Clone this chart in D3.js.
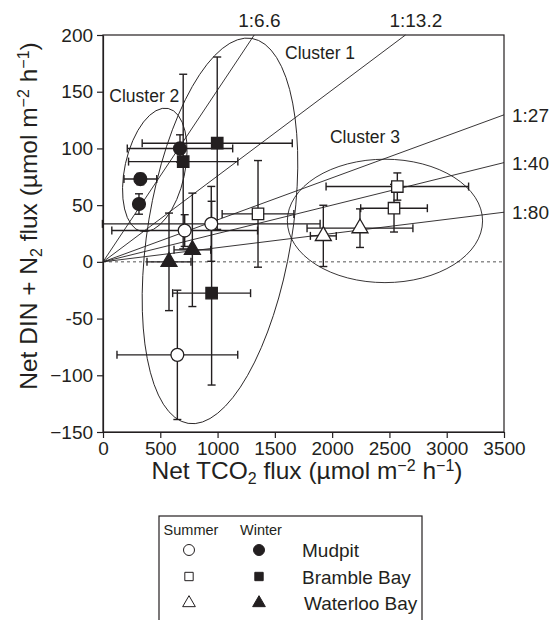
<!DOCTYPE html>
<html>
<head>
<meta charset="utf-8">
<script src="https://cdn.jsdelivr.net/npm/d3@7"></script>
<style>
  body { margin: 0; background: #fff; }
  text { font-family: "Liberation Sans", Arial, sans-serif; fill: #231f20; }
</style>
</head>
<body>
<svg id="chart" width="557" height="620"></svg>
<script>
// axis ticks
const xTicks = [0, 500, 1000, 1500, 2000, 2500, 3000, 3500];
const yTicks = [200, 150, 100, 50, 0, -50, -100, -150];
const yTickLabels = ["200", "150", "100", "50", "0", "-50", "\u2212100", "\u2212150"];

// N : C ratio lines
const ratios = [6.6, 13.2, 27, 40, 80];
const ratioLabels = ["1:6.6", "1:13.2", "1:27", "1:40", "1:80"];

// points: [TCO2, DIN+N2, TCO2 err, DIN+N2 err]
const mudpitSummer = [[713, 27.6, 636, 14], [945, 33.5, 950, 33], [649, -82, 527, 57]];
const mudpitWinter = [[672, 100, 460, 12], [326, 73, 143, 5], [314, 51, 35, 9]];
const brambleSummer = [[1353, 42.3, 313, 47], [2569, 66.4, 622, 12], [2540, 47.3, 291, 21]];
const brambleWinter = [[997, 104.6, 655, 76], [700, 88.4, 477, 77], [948, -27.6, 340, 81]];
const waterlooSummer = [[1923, 22.9, 113, 27], [2243, 29.7, 462, 17]];
const waterlooWinter = [[576, 0, 192, 43], [780, 10.6, 160, 50]];

// clusters: centre, semi-axes (in data units) and tilt in degrees
const clusterNames = ["Cluster 1", "Cluster 2", "Cluster 3"];
const clusterCx = [1021, 452, 2461];
const clusterCy = [27.3, 81, 36.1];
const clusterRx = [628, 262, 852];
const clusterRy = [172, 55.5, 54.4];
const clusterTilt = [9.4, 12.3, 0];
const clusterLabelX = [1589, 55, 1981];
const clusterLabelY = [179, 141, 105];

const sites = ["Mudpit", "Bramble Bay", "Waterloo Bay"];
const seasons = ["Summer", "Winter"];

const svg = d3.select("#chart");
const x = d3.scaleLinear().domain([0, 3500]).range([103, 504]);
const y = d3.scaleLinear().domain([-150, 200]).range([432, 35]);

const ink = "#231f20";

// zero line
svg.append("line")
  .attr("x1", x(0)).attr("x2", x(3500))
  .attr("y1", y(0)).attr("y2", y(0))
  .attr("stroke", "#555").attr("stroke-width", 1)
  .attr("stroke-dasharray", "3,3");

// ratio lines, clipped to plot top/right
const ratioG = svg.append("g");
ratios.forEach((r, i) => {
  let xe = 3500, ye = 3500 / r;
  if (ye > 200) { ye = 200; xe = 200 * r; }
  ratioG.append("line")
    .attr("x1", x(0)).attr("y1", y(0))
    .attr("x2", x(xe)).attr("y2", y(ye))
    .attr("stroke", ink).attr("stroke-width", 0.9);
  const lbl = ratioG.append("text")
    .style("font-size", "19px")
    .text(ratioLabels[i]);
  if (ye >= 200) {
    lbl.attr("x", x(xe) - 16).attr("y", 27);
  } else {
    lbl.attr("x", x(3500) + 8).attr("y", y(ye) + 7);
  }
});

// clusters
const clusterG = svg.append("g");
clusterNames.forEach((name, i) => {
  const cx = x(clusterCx[i]), cy = y(clusterCy[i]);
  clusterG.append("ellipse")
    .attr("cx", 0).attr("cy", 0)
    .attr("rx", x(clusterRx[i]) - x(0))
    .attr("ry", y(0) - y(clusterRy[i]))
    .attr("transform", `translate(${cx},${cy}) rotate(${clusterTilt[i]})`)
    .attr("fill", "none").attr("stroke", ink).attr("stroke-width", 0.9);
  clusterG.append("text")
    .attr("x", x(clusterLabelX[i])).attr("y", y(clusterLabelY[i]))
    .style("font-size", "17.5px")
    .text(name);
});

// error bars then markers
const groups = [
  { data: mudpitSummer, shape: d3.symbolCircle, filled: false },
  { data: mudpitWinter, shape: d3.symbolCircle, filled: true },
  { data: brambleSummer, shape: d3.symbolSquare, filled: false },
  { data: brambleWinter, shape: d3.symbolSquare, filled: true },
  { data: waterlooSummer, shape: d3.symbolTriangle, filled: false },
  { data: waterlooWinter, shape: d3.symbolTriangle, filled: true },
];
const cap = 4;
const errG = svg.append("g").attr("stroke", ink).attr("stroke-width", 1.4);
groups.forEach(g => {
  g.data.forEach(d => {
    const [vx, vy, ex, ey] = d;
    const x0 = x(vx - ex), x1 = x(vx + ex), y0 = y(vy - ey), y1 = y(vy + ey);
    errG.append("line").attr("x1", x0).attr("x2", x1).attr("y1", y(vy)).attr("y2", y(vy));
    errG.append("line").attr("x1", x0).attr("x2", x0).attr("y1", y(vy) - cap).attr("y2", y(vy) + cap);
    errG.append("line").attr("x1", x1).attr("x2", x1).attr("y1", y(vy) - cap).attr("y2", y(vy) + cap);
    errG.append("line").attr("x1", x(vx)).attr("x2", x(vx)).attr("y1", y0).attr("y2", y1);
    errG.append("line").attr("x1", x(vx) - cap).attr("x2", x(vx) + cap).attr("y1", y0).attr("y2", y0);
    errG.append("line").attr("x1", x(vx) - cap).attr("x2", x(vx) + cap).attr("y1", y1).attr("y2", y1);
  });
});

function symbolSize(shape) {
  if (shape === d3.symbolCircle) return 130;
  if (shape === d3.symbolSquare) return 130;
  return 110;
}
groups.forEach(g => {
  svg.append("g").selectAll("path")
    .data(g.data)
    .enter()
    .append("path")
    .attr("transform", d => `translate(${x(d[0])},${y(d[1])})`)
    .attr("d", d3.symbol().type(g.shape).size(symbolSize(g.shape)))
    .attr("fill", g.filled ? ink : "#fff")
    .attr("stroke", ink)
    .attr("stroke-width", 1.3);
});

// frame
svg.append("rect")
  .attr("x", x(0)).attr("y", y(200))
  .attr("width", x(3500) - x(0)).attr("height", y(-150) - y(200))
  .attr("fill", "none").attr("stroke", ink).attr("stroke-width", 1.2);

// axes
const xAxis = svg.append("g")
  .attr("transform", `translate(0,${y(-150)})`)
  .call(d3.axisBottom(x).tickValues(xTicks).tickSize(6).tickSizeOuter(0).tickFormat(d3.format("d")));
const yAxis = svg.append("g")
  .attr("transform", `translate(${x(0)},0)`)
  .call(d3.axisLeft(y).tickValues(yTicks).tickSize(6).tickSizeOuter(0)
    .tickFormat((d, i) => yTickLabels[i]));
[xAxis, yAxis].forEach(a => {
  a.select(".domain").attr("stroke", ink).attr("stroke-width", 1.2);
  a.selectAll(".tick line").attr("stroke", ink).attr("stroke-width", 1.2);
  a.selectAll(".tick text")
    .style("font-family", "'Liberation Sans', Arial, sans-serif")
    .style("font-size", "19px").attr("fill", ink);
});
xAxis.selectAll(".tick text").attr("dy", "0.72em");
yAxis.selectAll(".tick text").attr("dx", "-0.05em");

// axis titles
function title(sel, head) {
  sel.append("tspan").text(head);
  sel.append("tspan").attr("dy", 5).style("font-size", "16px").text("2");
  sel.append("tspan").attr("dy", -5).text(" flux (\u00b5mol m");
  sel.append("tspan").attr("dy", -8).style("font-size", "16px").text("\u22122");
  sel.append("tspan").attr("dy", 8).text(" h");
  sel.append("tspan").attr("dy", -8).style("font-size", "16px").text("\u22121");
  sel.append("tspan").attr("dy", 8).text(")");
}
const xt = svg.append("text")
  .attr("x", 307).attr("y", 479)
  .attr("text-anchor", "middle").style("font-size", "24.5px");
title(xt, "Net TCO");

const yt = svg.append("text")
  .attr("transform", "translate(37,216) rotate(-90)")
  .attr("text-anchor", "middle").style("font-size", "24.5px");
title(yt, "Net DIN + N");

// legend
const leg = svg.append("g");
leg.append("rect")
  .attr("x", 159).attr("y", 516).attr("width", 263).attr("height", 120)
  .attr("fill", "none").attr("stroke", ink).attr("stroke-width", 1.2);
const seasonX = [191, 261];
seasons.forEach((s, i) => {
  leg.append("text").attr("x", seasonX[i]).attr("y", 535)
    .attr("text-anchor", "middle").style("font-size", "14.5px").text(s);
});
const legShapes = [d3.symbolCircle, d3.symbolSquare, d3.symbolTriangle];
const legSizes = [95, 70, 70];
sites.forEach((site, i) => {
  const yy = 550 + i * 26.5;
  seasons.forEach((s, j) => {
    leg.append("path")
      .attr("transform", `translate(${seasonX[j] - 2},${yy})`)
      .attr("d", d3.symbol().type(legShapes[i]).size(legSizes[i]))
      .attr("fill", j === 1 ? ink : "#fff")
      .attr("stroke", ink).attr("stroke-width", 1);
  });
  leg.append("text").attr("x", 302 + (i === 2 ? 2 : 0)).attr("y", yy + 7)
    .style("font-size", "19px").text(site);
});
</script>
</body>
</html>
